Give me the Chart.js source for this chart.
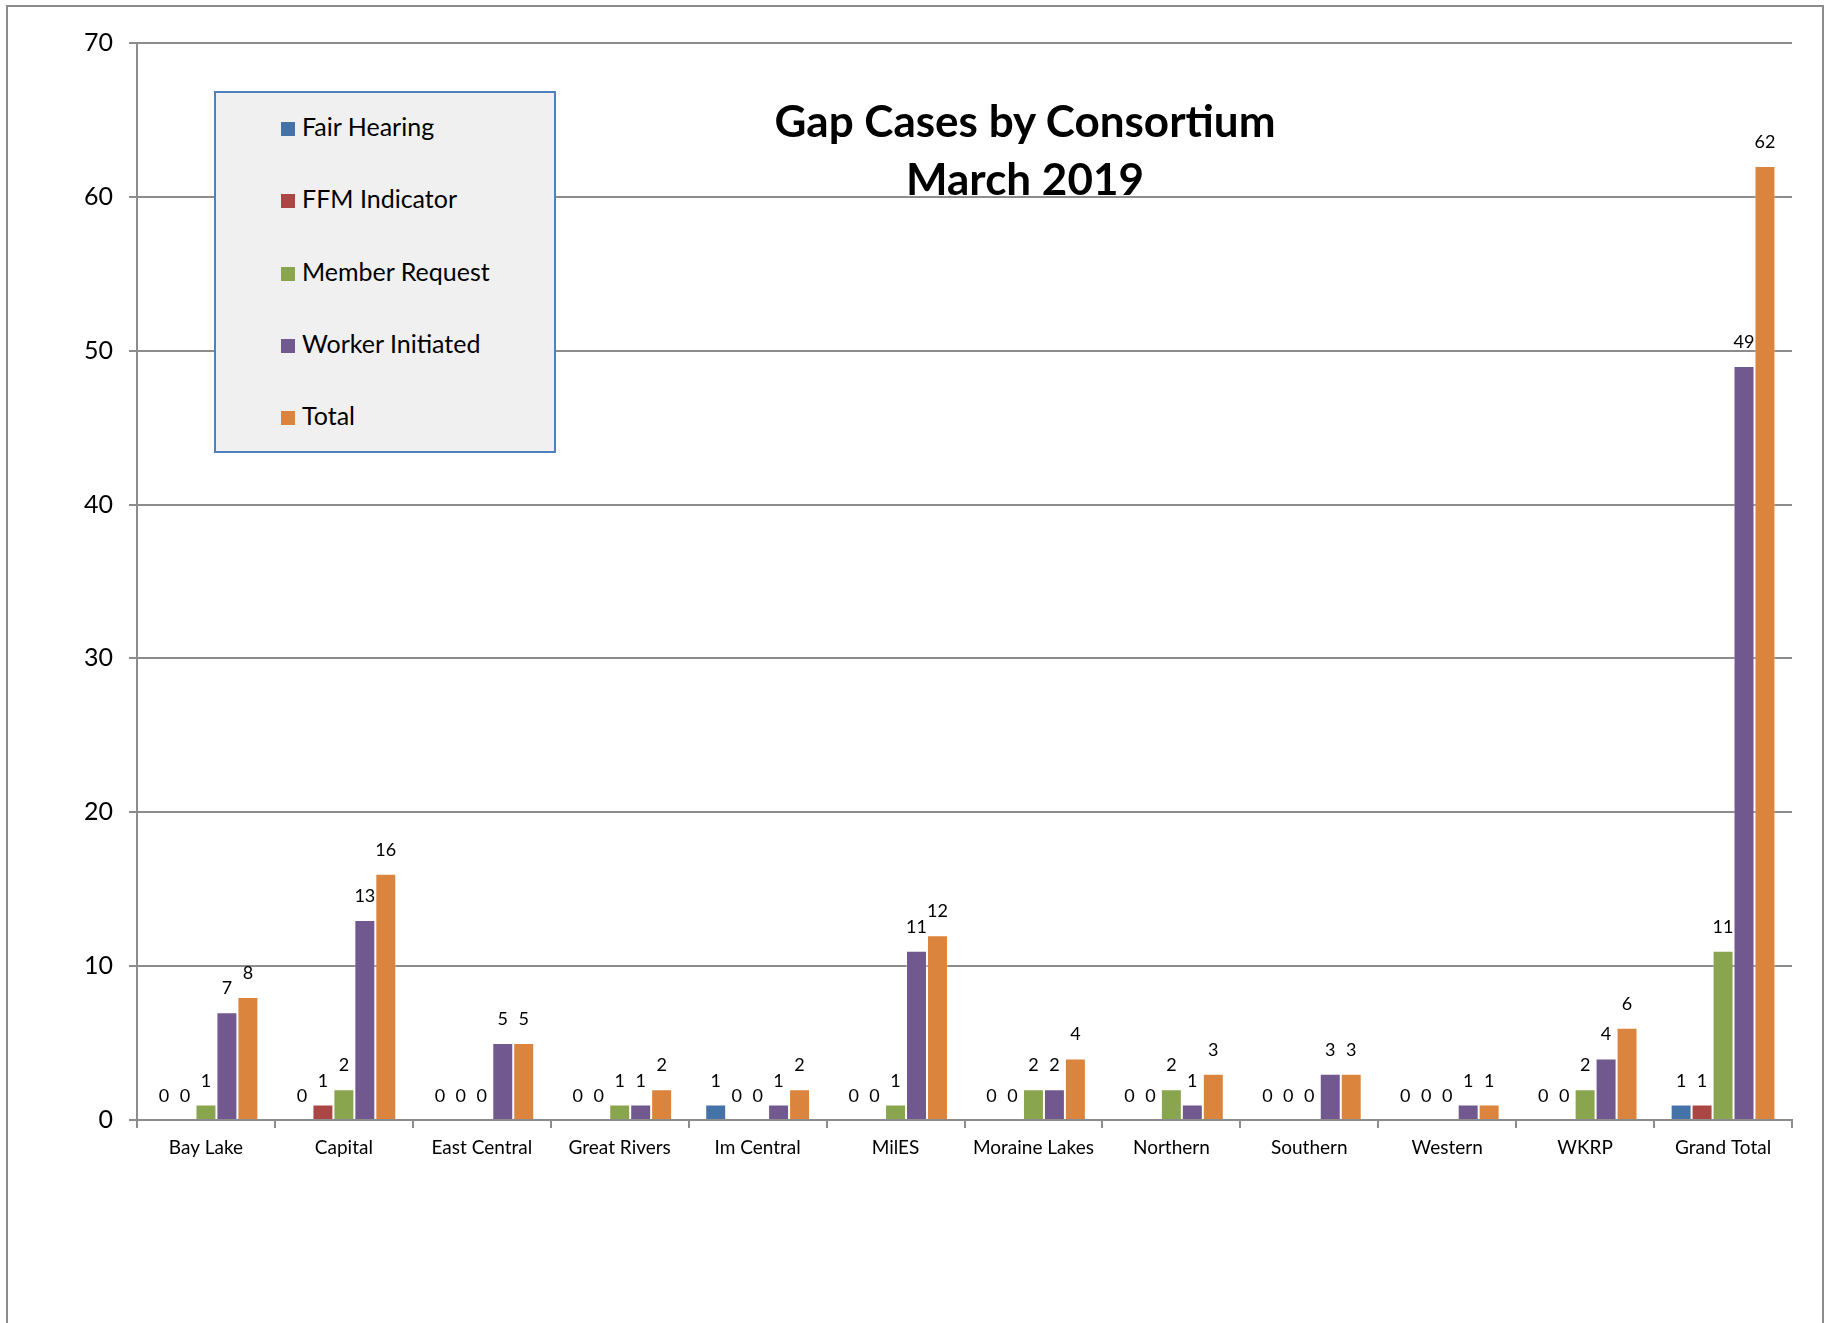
<!DOCTYPE html>
<html>
<head>
<meta charset="utf-8">
<script src="https://cdn.jsdelivr.net/npm/chart.js@4.4.1/dist/chart.umd.min.js"></script>
<style>
  html, body { margin:0; padding:0; background:#fff; overflow:hidden; }
  #wrap { position:relative; width:1834px; height:1323px; }
  #frame { position:absolute; left:6px; top:5px; width:1818px; height:1340px; border:2px solid #8c8c8c; box-sizing:border-box; pointer-events:none; }
  #title { position:absolute; left:675px; width:700px; top:91px; text-align:center; font-family:Lato, 'Open Sans', sans-serif; font-weight:bold; font-size:44px; line-height:58px; color:#000; }
  #legend { position:absolute; left:214px; top:91px; width:342px; height:362px; box-sizing:border-box; border:2px solid #4f81bd; background:#f0f0f0; font-family:Lato, 'Open Sans', sans-serif; font-size:25px; color:#000; }
  .li { position:absolute; left:65px; height:30px; line-height:30px; white-space:nowrap; }
  .sw { display:inline-block; width:14px; height:14px; margin-right:7px; vertical-align:0px; }
  canvas { position:absolute; left:0; top:0; }
</style>
</head>
<body>
<div id="wrap">
  <canvas id="c" width="1834" height="1323"></canvas>
  <div id="legend"></div>
  <div id="title">Gap Cases by Consortium<br>March 2019</div>
  <div id="frame"></div>
</div>
<script>
const categories = ['Bay Lake','Capital','East Central','Great Rivers','Im Central','MilES','Moraine Lakes','Northern','Southern','Western','WKRP','Grand Total'];
const fairHearing     = [0, 0, 0, 0, 1, 0, 0, 0, 0, 0, 0, 1];
const ffmIndicator    = [0, 1, 0, 0, 0, 0, 0, 0, 0, 0, 0, 1];
const memberRequest   = [1, 2, 0, 1, 0, 1, 2, 2, 0, 0, 2, 11];
const workerInitiated = [7, 13, 5, 1, 1, 11, 2, 1, 3, 1, 4, 49];
const totals          = [8, 16, 5, 2, 2, 12, 4, 3, 3, 1, 6, 62];
const seriesNames  = ['Fair Hearing','FFM Indicator','Member Request','Worker Initiated','Total'];
const seriesColors = ['#4572a7','#aa4643','#89a54e','#71588f','#db843d'];
const yTicks = [0,10,20,30,40,50,60,70];

const seriesData = [fairHearing, ffmIndicator, memberRequest, workerInitiated, totals];
const FONT = "Lato, 'Open Sans', sans-serif";

// legend
const lg = document.getElementById('legend');
seriesNames.forEach((n, i) => {
  const d = document.createElement('div');
  d.className = 'li';
  d.style.top = (18 + i * 72.3) + 'px';
  d.innerHTML = '<span class="sw" style="background:' + seriesColors[i] + '"></span>' + n;
  lg.appendChild(d);
});

const labelPlugin = {
  id: 'barLabels',
  afterDatasetsDraw(chart) {
    const ctx = chart.ctx;
    ctx.save();
    ctx.font = '18px ' + FONT;
    ctx.fillStyle = '#000';
    ctx.textAlign = 'center';
    ctx.textBaseline = 'alphabetic';
    chart.data.datasets.forEach((ds, di) => {
      const meta = chart.getDatasetMeta(di);
      meta.data.forEach((bar, i) => {
        ctx.fillText(String(ds.data[i]), bar.x, bar.y - 18);
      });
    });
    ctx.restore();
  }
};

const GRID = '#8c8c8c';
new Chart(document.getElementById('c'), {
  type: 'bar',
  data: {
    labels: categories,
    datasets: seriesNames.map((n, i) => ({
      label: n,
      data: seriesData[i],
      backgroundColor: seriesColors[i],
      borderColor: 'rgba(255,255,255,0.35)',
      borderWidth: 1,
      categoryPercentage: 0.76,
      barPercentage: 1.0
    }))
  },
  options: {
    responsive: false,
    animation: false,
    devicePixelRatio: 1,
    layout: { padding: { left: 0, top: 43, right: 42, bottom: 0 } },
    plugins: { legend: { display: false }, title: { display: false }, tooltip: { enabled: false } },
    scales: {
      x: {
        offset: true,
        grid: { offset: true, drawOnChartArea: false, drawTicks: true, tickLength: 8, color: GRID, lineWidth: 2 },
        border: { color: GRID, width: 2 },
        ticks: { color: '#000', font: { family: FONT, size: 19 }, padding: 8, maxRotation: 0, autoSkip: false },
        afterFit(s) { s.height = 203; }
      },
      y: {
        min: 0, max: 70,
        afterBuildTicks(s) { s.ticks = yTicks.map(v => ({ value: v })); },
        grid: { color: GRID, lineWidth: 2, drawTicks: true, tickLength: 8 },
        border: { color: GRID, width: 2 },
        ticks: { color: '#000', font: { family: FONT, size: 25 }, padding: 16 },
        afterFit(s) { s.width = 137; }
      }
    }
  },
  plugins: [labelPlugin]
});
</script>
</body>
</html>
